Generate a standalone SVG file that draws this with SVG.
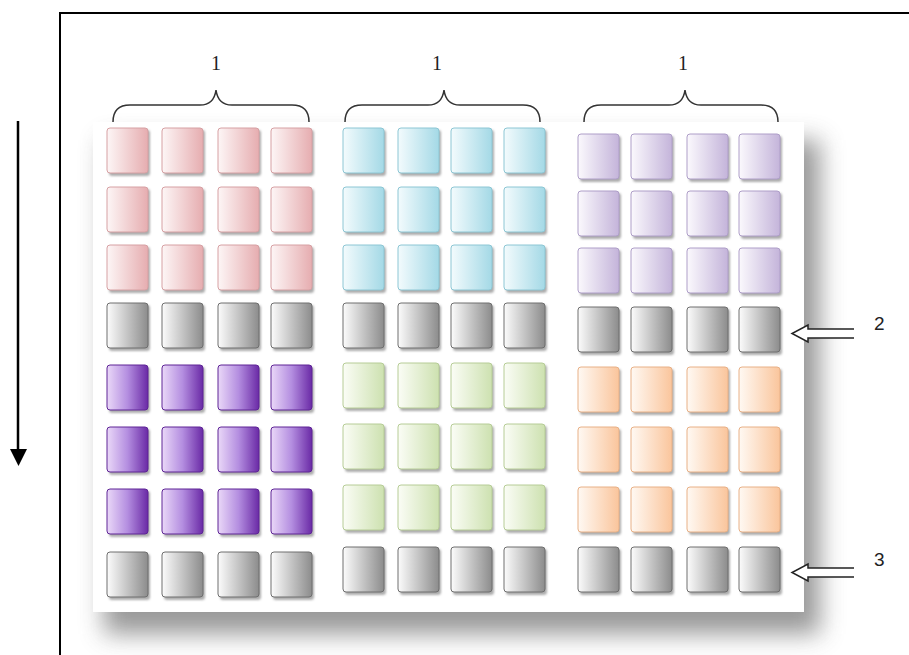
<svg xmlns="http://www.w3.org/2000/svg" width="909" height="655" viewBox="0 0 909 655">
<style>
.sh{fill:#6a6a6a;opacity:.55;filter:url(#cb)}
.brace{fill:none;stroke:#333;stroke-width:1.5}
.lab1{font-family:"Liberation Serif",serif;font-size:20px;fill:#222;text-anchor:middle}
.lab2{font-family:"Liberation Sans",sans-serif;font-size:19px;fill:#222}
.frame{stroke:#000;stroke-width:2;fill:none}
.hfill{fill:#fff;stroke:none}
.harrow{fill:none;stroke:#222;stroke-width:1.5;stroke-linejoin:miter}
</style>
<defs>
<filter id="cb" x="-20%" y="-20%" width="140%" height="140%"><feGaussianBlur stdDeviation="1.3"/></filter>
<filter id="pb" x="-10%" y="-10%" width="120%" height="120%"><feGaussianBlur stdDeviation="12"/></filter>
<linearGradient id="gPink" x1="0" y1="0" x2="1" y2="0"><stop offset="0" stop-color="#fdf6f6"/><stop offset="1" stop-color="#e6adb0"/></linearGradient>
<linearGradient id="gCyan" x1="0" y1="0" x2="1" y2="0"><stop offset="0" stop-color="#f3fbfd"/><stop offset="1" stop-color="#a4d9e6"/></linearGradient>
<linearGradient id="gLav" x1="0" y1="0" x2="1" y2="0"><stop offset="0" stop-color="#fbf9fd"/><stop offset="1" stop-color="#c4b4da"/></linearGradient>
<linearGradient id="gGray" x1="0" y1="0" x2="1" y2="0"><stop offset="0" stop-color="#fcfcfc"/><stop offset="1" stop-color="#8c8c8c"/></linearGradient>
<linearGradient id="gPurp" x1="0" y1="0" x2="1" y2="0"><stop offset="0" stop-color="#ead8f8"/><stop offset="0.5" stop-color="#b48ee0"/><stop offset="1" stop-color="#6a2aa6"/></linearGradient>
<linearGradient id="gGreen" x1="0" y1="0" x2="1" y2="0"><stop offset="0" stop-color="#fbfdf6"/><stop offset="1" stop-color="#cde1b0"/></linearGradient>
<linearGradient id="gOrg" x1="0" y1="0" x2="1" y2="0"><stop offset="0" stop-color="#fff9f3"/><stop offset="1" stop-color="#fac59c"/></linearGradient>
<g id="cell-pink"><rect class="sh" x="2" y="2" width="41" height="46" rx="3"/><rect x="0" y="0" width="41" height="45" rx="3" fill="url(#gPink)" stroke="#d6a0a3"/></g>
<g id="cell-cyan"><rect class="sh" x="2" y="2" width="41" height="46" rx="3"/><rect x="0" y="0" width="41" height="45" rx="3" fill="url(#gCyan)" stroke="#8cc6d4"/></g>
<g id="cell-lav"><rect class="sh" x="2" y="2" width="41" height="46" rx="3"/><rect x="0" y="0" width="41" height="45" rx="3" fill="url(#gLav)" stroke="#ae9ec8"/></g>
<g id="cell-gray"><rect class="sh" x="2" y="2" width="41" height="46" rx="3"/><rect x="0" y="0" width="41" height="45" rx="3" fill="url(#gGray)" stroke="#6e6e6e"/></g>
<g id="cell-purp"><rect class="sh" x="2" y="2" width="41" height="46" rx="3"/><rect x="0" y="0" width="41" height="45" rx="3" fill="url(#gPurp)" stroke="#5e2496"/></g>
<g id="cell-green"><rect class="sh" x="2" y="2" width="41" height="46" rx="3"/><rect x="0" y="0" width="41" height="45" rx="3" fill="url(#gGreen)" stroke="#b6cc96"/></g>
<g id="cell-org"><rect class="sh" x="2" y="2" width="41" height="46" rx="3"/><rect x="0" y="0" width="41" height="45" rx="3" fill="url(#gOrg)" stroke="#e8b086"/></g>
</defs>
<rect width="909" height="655" fill="#fff"/>
<g id="frame">
<line class="frame" x1="60" y1="13" x2="909" y2="13"/>
<line class="frame" x1="60" y1="12" x2="60" y2="655"/>
</g>
<g id="panel">
<rect x="104" y="140" width="716" height="494" fill="#555" filter="url(#pb)" opacity="0.6"/>
<rect x="93" y="122" width="711" height="490" fill="#fff"/>
</g>
<g id="block-1-top">
<use href="#cell-pink" x="107" y="128"/><use href="#cell-pink" x="162" y="128"/><use href="#cell-pink" x="218" y="128"/><use href="#cell-pink" x="271" y="128"/>
<use href="#cell-pink" x="107" y="187"/><use href="#cell-pink" x="162" y="187"/><use href="#cell-pink" x="218" y="187"/><use href="#cell-pink" x="271" y="187"/>
<use href="#cell-pink" x="107" y="245"/><use href="#cell-pink" x="162" y="245"/><use href="#cell-pink" x="218" y="245"/><use href="#cell-pink" x="271" y="245"/>
</g>
<g id="block-2-top">
<use href="#cell-cyan" x="343" y="128"/><use href="#cell-cyan" x="398" y="128"/><use href="#cell-cyan" x="451" y="128"/><use href="#cell-cyan" x="504" y="128"/>
<use href="#cell-cyan" x="343" y="187"/><use href="#cell-cyan" x="398" y="187"/><use href="#cell-cyan" x="451" y="187"/><use href="#cell-cyan" x="504" y="187"/>
<use href="#cell-cyan" x="343" y="245"/><use href="#cell-cyan" x="398" y="245"/><use href="#cell-cyan" x="451" y="245"/><use href="#cell-cyan" x="504" y="245"/>
</g>
<g id="block-3-top">
<use href="#cell-lav" x="578" y="134"/><use href="#cell-lav" x="631" y="134"/><use href="#cell-lav" x="687" y="134"/><use href="#cell-lav" x="739" y="134"/>
<use href="#cell-lav" x="578" y="191"/><use href="#cell-lav" x="631" y="191"/><use href="#cell-lav" x="687" y="191"/><use href="#cell-lav" x="739" y="191"/>
<use href="#cell-lav" x="578" y="248"/><use href="#cell-lav" x="631" y="248"/><use href="#cell-lav" x="687" y="248"/><use href="#cell-lav" x="739" y="248"/>
</g>
<g id="gray-row-2">
<use href="#cell-gray" x="107" y="303"/><use href="#cell-gray" x="162" y="303"/><use href="#cell-gray" x="218" y="303"/><use href="#cell-gray" x="271" y="303"/>
<use href="#cell-gray" x="343" y="303"/><use href="#cell-gray" x="398" y="303"/><use href="#cell-gray" x="451" y="303"/><use href="#cell-gray" x="504" y="303"/>
<use href="#cell-gray" x="578" y="307"/><use href="#cell-gray" x="631" y="307"/><use href="#cell-gray" x="687" y="307"/><use href="#cell-gray" x="739" y="307"/>
</g>
<g id="block-1-bottom">
<use href="#cell-purp" x="107" y="365"/><use href="#cell-purp" x="162" y="365"/><use href="#cell-purp" x="218" y="365"/><use href="#cell-purp" x="271" y="365"/>
<use href="#cell-purp" x="107" y="427"/><use href="#cell-purp" x="162" y="427"/><use href="#cell-purp" x="218" y="427"/><use href="#cell-purp" x="271" y="427"/>
<use href="#cell-purp" x="107" y="489"/><use href="#cell-purp" x="162" y="489"/><use href="#cell-purp" x="218" y="489"/><use href="#cell-purp" x="271" y="489"/>
</g>
<g id="block-2-bottom">
<use href="#cell-green" x="343" y="363"/><use href="#cell-green" x="398" y="363"/><use href="#cell-green" x="451" y="363"/><use href="#cell-green" x="504" y="363"/>
<use href="#cell-green" x="343" y="424"/><use href="#cell-green" x="398" y="424"/><use href="#cell-green" x="451" y="424"/><use href="#cell-green" x="504" y="424"/>
<use href="#cell-green" x="343" y="485"/><use href="#cell-green" x="398" y="485"/><use href="#cell-green" x="451" y="485"/><use href="#cell-green" x="504" y="485"/>
</g>
<g id="block-3-bottom">
<use href="#cell-org" x="578" y="367"/><use href="#cell-org" x="631" y="367"/><use href="#cell-org" x="687" y="367"/><use href="#cell-org" x="739" y="367"/>
<use href="#cell-org" x="578" y="427"/><use href="#cell-org" x="631" y="427"/><use href="#cell-org" x="687" y="427"/><use href="#cell-org" x="739" y="427"/>
<use href="#cell-org" x="578" y="487"/><use href="#cell-org" x="631" y="487"/><use href="#cell-org" x="687" y="487"/><use href="#cell-org" x="739" y="487"/>
</g>
<g id="gray-row-3">
<use href="#cell-gray" x="107" y="552"/><use href="#cell-gray" x="162" y="552"/><use href="#cell-gray" x="218" y="552"/><use href="#cell-gray" x="271" y="552"/>
<use href="#cell-gray" x="343" y="547"/><use href="#cell-gray" x="398" y="547"/><use href="#cell-gray" x="451" y="547"/><use href="#cell-gray" x="504" y="547"/>
<use href="#cell-gray" x="578" y="547"/><use href="#cell-gray" x="631" y="547"/><use href="#cell-gray" x="687" y="547"/><use href="#cell-gray" x="739" y="547"/>
</g>
<g id="connectors">
<path class="brace" d="M113,122 Q113,105 130,105 L200,105 Q214,105 216,90 Q218,105 232,105 L292,105 Q309,105 309,122"/>
<path class="brace" d="M345,122 Q345,105 362,105 L428,105 Q442,105 444,90 Q446,105 460,105 L523,105 Q540,105 540,122"/>
<path class="brace" d="M584,122 Q584,105 601,105 L669,105 Q683,105 685,90 Q687,105 701,105 L761,105 Q778,105 778,122"/>
<line x1="18" y1="121" x2="18" y2="452" stroke="#000" stroke-width="2.5"/>
<polygon points="10,449 27,449 18.5,466" fill="#000"/>
<polygon class="hfill" points="792,333 808,325 808,329 854,329 854,338 808,338 808,342"/>
<path class="harrow" d="M854,329 L808,329 L808,325 L792,333.5 L808,342 L808,338 L854,338"/>
<polygon class="hfill" points="792,572 808,564 808,568 854,568 854,577 808,577 808,581"/>
<path class="harrow" d="M854,568 L808,568 L808,564 L792,572.5 L808,581 L808,577 L854,577"/>
</g>
<g id="labels">
<text class="lab1" x="216" y="70">1</text>
<text class="lab1" x="437" y="70">1</text>
<text class="lab1" x="683" y="70">1</text>
<text class="lab2" x="874" y="330">2</text>
<text class="lab2" x="874" y="566">3</text>
</g>
</svg>
